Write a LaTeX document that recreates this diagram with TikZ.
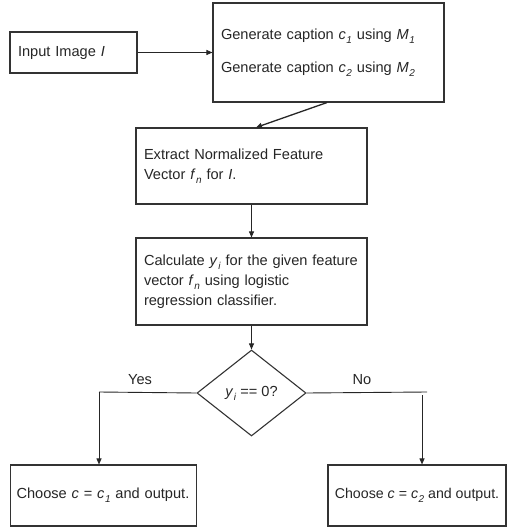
\documentclass[tikz,border=0pt]{standalone}
\usepackage{fontspec}
\setmainfont{Liberation Sans}
\usetikzlibrary{arrows.meta,shapes.geometric}
\hyphenpenalty=10000
\tikzset{>/.tip={Triangle[length=6pt,width=5pt]},
  box/.style={draw=black!80, line width=1.1pt, rectangle, inner sep=8pt, align=left},
  flow/.style={->, draw=black!85, line width=0.9pt}}
\newcommand{\vsub}[2]{\textit{#1}\kern0.5pt\raisebox{-4pt}{\fontsize{10}{10}\selectfont\textit{#2}}}

\begin{document}
\begin{tikzpicture}[x=1pt, y=-1pt, font=\fontsize{14.6}{20}\selectfont, text=black!85]
\useasboundingbox (0,0) rectangle (506,529);
\node[box, minimum width=127pt, minimum height=41pt, text width=111pt] (inp) at (73.5,52.5) {Input Image \textit{I}};
\node[box, minimum width=231pt, minimum height=99pt, text width=215pt] (cap) at (328.5,52.5)
  {Generate caption \vsub{c}{1} using \vsub{M}{1}\\[13pt]Generate caption \vsub{c}{2} using \vsub{M}{2}};
\node[box, minimum width=231pt, minimum height=76pt, text width=215pt] (ext) at (251.5,166)
  {Extract Normalized Feature\\Vector \vsub{f}{n} for \textit{I}.};
\node[box, minimum width=231pt, minimum height=87pt, text width=215pt] (calc) at (251.5,281.5)
  {Calculate \vsub{y}{i} for the given feature\\vector \vsub{f}{n} using logistic\\regression classifier.};
\node[draw=black!80, line width=1.1pt, diamond, minimum width=109pt, minimum height=86pt, inner sep=0pt] (dec) at (251.5,393)
  {\vsub{y}{i} == 0?};
\node[box, inner xsep=6pt, minimum width=186pt, minimum height=61pt, text width=174pt] (left) at (103.5,495.5)
  {Choose \textit{c} = \vsub{c}{1} and output.};
\node[box, inner xsep=2pt, minimum width=178pt, minimum height=61pt, font=\fontsize{14.2}{20}\selectfont] (right) at (417,495.5)
  {Choose \textit{c} = \vsub{c}{2} and output.};
\node (yes) at (140,380) {Yes};
\node (no) at (362,380) {No};
\coordinate (yescorner) at (99,392);
\coordinate (nocorner) at (427,392);
\coordinate (nodown) at (422,395);

\draw[flow] (inp) -- (cap);
\draw[flow, line width=1.3pt] ([xshift=-1.5pt]cap.south) -- ([xshift=4.5pt]ext.north);
\draw[flow] (ext) -- (calc);
\draw[flow] (calc) -- (dec);
\draw[draw=black!85, line width=0.9pt] (dec.west) -- (yescorner);
\draw[flow] (yescorner) -- (yescorner |- left.north);
\draw[draw=black!85, line width=0.9pt] (dec.east) -- (nocorner);
\draw[flow] (nodown) -- (nodown |- right.north);
\end{tikzpicture}
\end{document}
